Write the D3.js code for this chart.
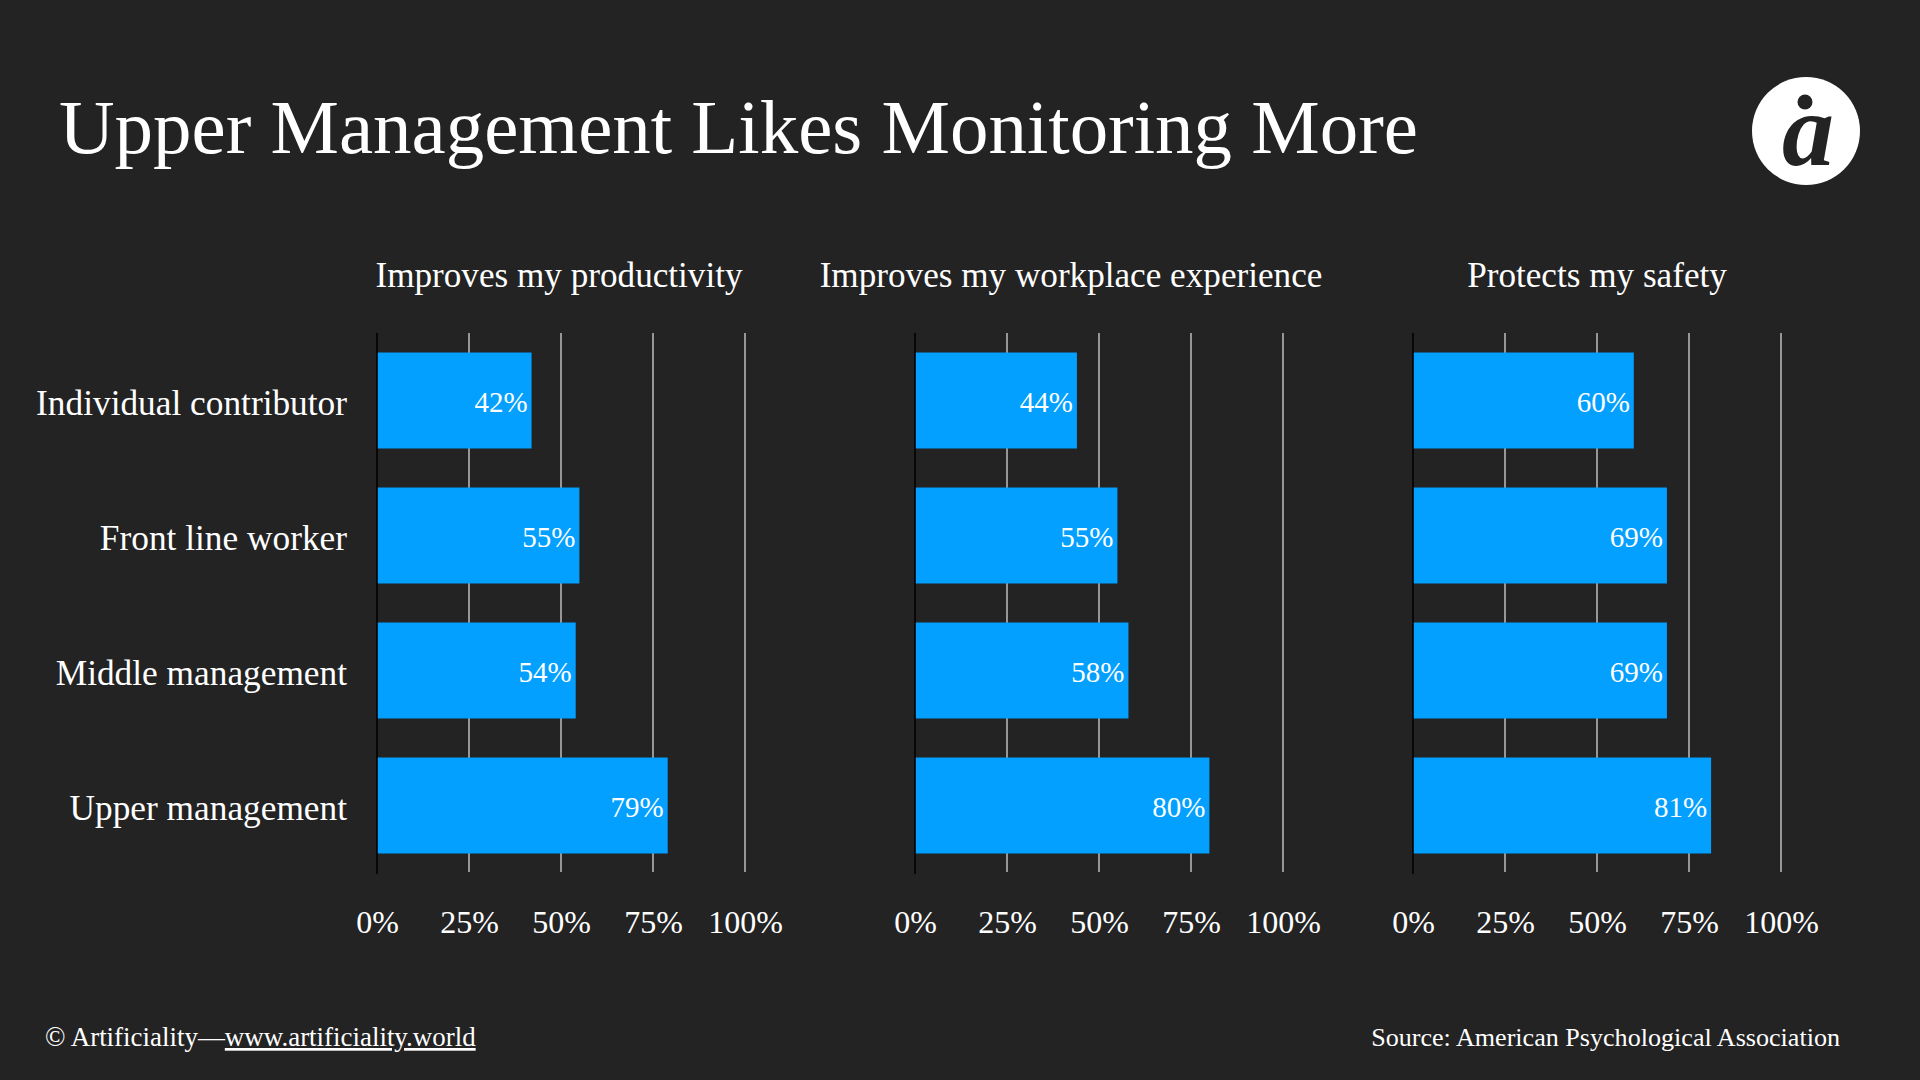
<!DOCTYPE html>
<html>
<head>
<meta charset="utf-8">
<script src="https://cdn.jsdelivr.net/npm/d3@7"></script>
<style>
  html, body { margin: 0; padding: 0; background: #232323; }
  svg { display: block; }
  text { font-family: "Liberation Serif", "DejaVu Serif", serif; fill: #ffffff; }
</style>
</head>
<body>
<script>
// ---- data ----
const categories = ["Individual contributor", "Front line worker", "Middle management", "Upper management"];
const panelTitles = ["Improves my productivity", "Improves my workplace experience", "Protects my safety"];
const productivity = [42, 55, 54, 79];
const workplace = [44, 55, 58, 80];
const safety = [60, 69, 69, 81];
const tickValues = [0, 25, 50, 75, 100];
const titleText = "Upper Management Likes Monitoring More";
const sourceText = "Source: American Psychological Association";
const creditText = "© Artificiality—";
const creditLink = "www.artificiality.world";

const seriesList = [productivity, workplace, safety];

// ---- layout ----
const W = 1920, H = 1080;
const panelLeft = [377, 915, 1413];
const panelWidth = 368;
const panelTitleCenter = [559, 1071, 1597];
const barColor = "#03a0ff";

const svg = d3.select("body").append("svg").attr("width", W).attr("height", H);
svg.append("rect").attr("width", W).attr("height", H).attr("fill", "#232323");

function fitSize(sel, targetWidth, base) {
  sel.style("font-size", base + "px");
  const w = sel.node().getComputedTextLength();
  const s = base * targetWidth / w;
  sel.style("font-size", s + "px");
  return s;
}

// Title
const title = svg.append("text").attr("x", 59).attr("y", 153).text(titleText);
fitSize(title, 1359, 70);

// Logo
const logo = svg.append("g").attr("transform", "translate(1806,131)");
logo.append("circle").attr("r", 54).attr("fill", "#ffffff");
logo.append("text").attr("x", 2).attr("y", 34).attr("text-anchor", "middle")
  .style("font-size", "104px").style("font-style", "italic").style("font-weight", "bold")
  .style("fill", "#232323").text("a");
logo.append("circle").attr("cx", -1).attr("cy", -29).attr("r", 7.5).attr("fill", "#232323");

// y scale (shared)
const y = d3.scaleBand().domain(categories).range([333, 873]).paddingInner(0.289).paddingOuter(0.1445);

// category labels
const catG = svg.append("g");
const catLabels = catG.selectAll("text").data(categories).join("text")
  .attr("x", 347).attr("y", d => y(d) + y.bandwidth() / 2 + 14)
  .attr("text-anchor", "end").text(d => d);
const catSize = fitSize(d3.select(catLabels.nodes()[0]), 311, 31);
catLabels.style("font-size", catSize + "px");

// panel title size based on widest title
let ptSize = null;

seriesList.forEach((vals, i) => {
  const x = d3.scaleLinear().domain([0, 100]).range([panelLeft[i], panelLeft[i] + panelWidth]);
  const g = svg.append("g");

  // gridlines
  g.selectAll("line.grid").data(tickValues.filter(t => t > 0)).join("line")
    .attr("class", "grid")
    .attr("x1", d => x(d)).attr("x2", d => x(d))
    .attr("y1", 333).attr("y2", 872)
    .attr("stroke", "#c9c9c9").attr("stroke-width", 1.4);

  // bars
  const data = categories.map((c, j) => ({ c, v: vals[j] }));
  g.selectAll("rect.bar").data(data).join("rect")
    .attr("class", "bar")
    .attr("x", x(0)).attr("y", d => y(d.c))
    .attr("width", d => x(d.v) - x(0)).attr("height", y.bandwidth())
    .attr("fill", barColor);

  // zero line
  g.append("line").attr("x1", x(0)).attr("x2", x(0)).attr("y1", 333).attr("y2", 874)
    .attr("stroke", "#000000").attr("stroke-width", 1.6);

  // value labels
  g.selectAll("text.val").data(data).join("text")
    .attr("class", "val")
    .attr("x", d => x(d.v) - 4).attr("y", d => y(d.c) + y.bandwidth() / 2 + 11)
    .attr("text-anchor", "end").style("font-size", "29px")
    .text(d => d.v + "%");

  // x axis tick labels
  const axis = d3.axisBottom(x).tickValues(tickValues).tickFormat(d => d + "%").tickSize(0).tickPadding(0);
  const ag = g.append("g").attr("transform", "translate(0,910)").call(axis);
  ag.select(".domain").remove();
  ag.selectAll("text").attr("dy", 0).attr("y", 23)
    .style("font-size", "32px").style("font-family", "\"Liberation Serif\", serif").attr("fill", "#ffffff");

  // panel title
  const pt = svg.append("text").attr("x", panelTitleCenter[i]).attr("y", 287)
    .attr("text-anchor", "middle").text(panelTitles[i]);
  if (i === 1) {
    ptSize = fitSize(pt, 503, 33);
  }
});
svg.selectAll("text").filter(function () { return panelTitles.includes(this.textContent); })
  .style("font-size", (ptSize || 33) + "px");

// footer
const credit = svg.append("text").attr("x", 45).attr("y", 1046);
credit.append("tspan").text(creditText);
credit.append("tspan").style("text-decoration", "underline").text(creditLink);
fitSize(credit, 431, 26);

const src = svg.append("text").attr("x", 1840).attr("y", 1046).attr("text-anchor", "end").text(sourceText);
fitSize(src, 469, 26);
</script>
</body>
</html>
